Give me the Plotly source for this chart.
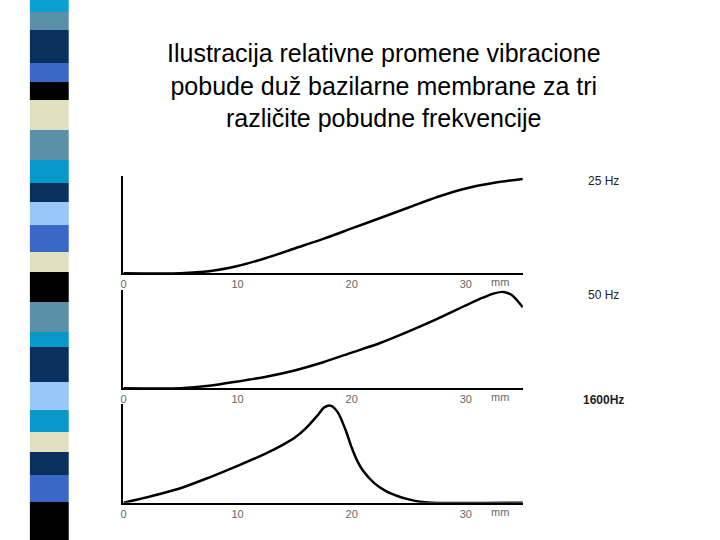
import plotly.graph_objects as go

x25 = [0, 5, 7.5, 10, 12.5, 15, 17.5, 20, 22.5, 25, 27.5, 30, 32.5, 35]
y25 = [0, 0, 0.02, 0.075, 0.16, 0.26, 0.36, 0.47, 0.58, 0.69, 0.80, 0.89, 0.95, 0.99]
x50 = [0, 5, 7.5, 10, 12.5, 15, 17.5, 20, 22.5, 25, 27.5, 30, 31.5, 32.5, 33.3, 34, 35]
y50 = [0, 0, 0.025, 0.07, 0.12, 0.185, 0.27, 0.37, 0.47, 0.59, 0.72, 0.86, 0.94, 0.985, 1.0, 0.97, 0.84]
x1600 = [0, 2.5, 5, 7.5, 10, 12.5, 14, 15, 16, 17, 17.6, 18.2, 18.8, 19.5, 20, 20.5, 21, 22, 23, 24, 25, 26, 27, 35]
y1600 = [0, 0.07, 0.15, 0.26, 0.38, 0.51, 0.6, 0.67, 0.77, 0.9, 0.985, 1.0, 0.93, 0.74, 0.57, 0.43, 0.33, 0.2, 0.12, 0.07, 0.035, 0.01, 0, 0]
labels = ["25 Hz", "50 Hz", "<b>1600Hz</b>"]
tickvals = [0, 10, 20, 30]
ticktext = ["0", "10", "20", "30"]

stripe_edges = [0, 12, 30, 63, 82, 100, 130, 160, 183, 202, 225, 252, 272, 302, 332, 347, 382, 410, 432, 452, 475, 502, 540]
stripe_colors = ["#0aa0d0", "#5a8fa8", "#0a3060", "#3a68c8", "#000000", "#e0e0c0", "#5a90a8", "#0898c8",
                 "#0a3060", "#98c8f8", "#3a68c8", "#e0e0c0", "#000000", "#5a90a8", "#0898c8", "#0a3060",
                 "#98c8f8", "#0898c8", "#e0e0c0", "#0a3060", "#3a68c8", "#000000"]

fig = go.Figure()
series = [(x25, y25), (x50, y50), (x1600, y1600)]
domains = [[0.494, 0.674], [0.281, 0.463], [0.069, 0.252]]
for i, (xs, ys) in enumerate(series):
    n = "" if i == 0 else str(i + 1)
    fig.add_trace(go.Scatter(x=xs, y=ys, mode="lines",
                             line=dict(color="black", width=2.5, shape="spline", smoothing=0.8),
                             xaxis="x" + n, yaxis="y" + n, showlegend=False))
    fig.layout["xaxis" + n] = dict(domain=[0.168, 0.725], range=[0, 35], anchor="y" + n, showgrid=False,
                                   zeroline=False, showline=True, linecolor="black", linewidth=2,
                                   tickvals=tickvals, ticktext=ticktext, ticks="",
                                   tickfont=dict(size=11, color="#666", family="Liberation Sans"))
    fig.layout["yaxis" + n] = dict(domain=domains[i], range=[0, 1.02], anchor="x" + n, showgrid=False,
                                   zeroline=False, showline=True, linecolor="black", linewidth=2,
                                   showticklabels=False, ticks="")
    fig.add_annotation(x=33, y=0, xref="x" + n, yref="y" + n, text="mm", showarrow=False, yanchor="top",
                       yshift=-1, font=dict(size=11, color="#666", family="Liberation Sans"))
    fig.add_annotation(x=603 / 720, y=domains[i][1] - 0.01, xref="paper", yref="paper", text=labels[i],
                       xanchor="center", showarrow=False, font=dict(size=12, color="#222", family="Liberation Sans"))

for j, c in enumerate(stripe_colors):
    fig.add_shape(type="rect", xref="paper", yref="paper", x0=27 / 720, x1=66 / 720,
                  y0=1 - stripe_edges[j + 1] / 540, y1=1 - stripe_edges[j] / 540,
                  fillcolor=c, line=dict(width=0), layer="below")

fig.add_annotation(x=0.532, y=1 - 86 / 540, xref="paper", yref="paper", showarrow=False, yanchor="middle",
                   text="Ilustracija relativne promene vibracione<br>pobude duž bazilarne membrane za tri<br>različite pobudne frekvencije",
                   font=dict(size=25, color="black", family="Liberation Sans"), align="center")

fig.update_layout(width=720, height=540, margin=dict(l=0, r=0, t=0, b=0),
                  paper_bgcolor="white", plot_bgcolor="white")
fig.write_html("out.html", config={"displayModeBar": False},
               post_script="document.body.style.margin='0';document.body.style.overflow='hidden';")
